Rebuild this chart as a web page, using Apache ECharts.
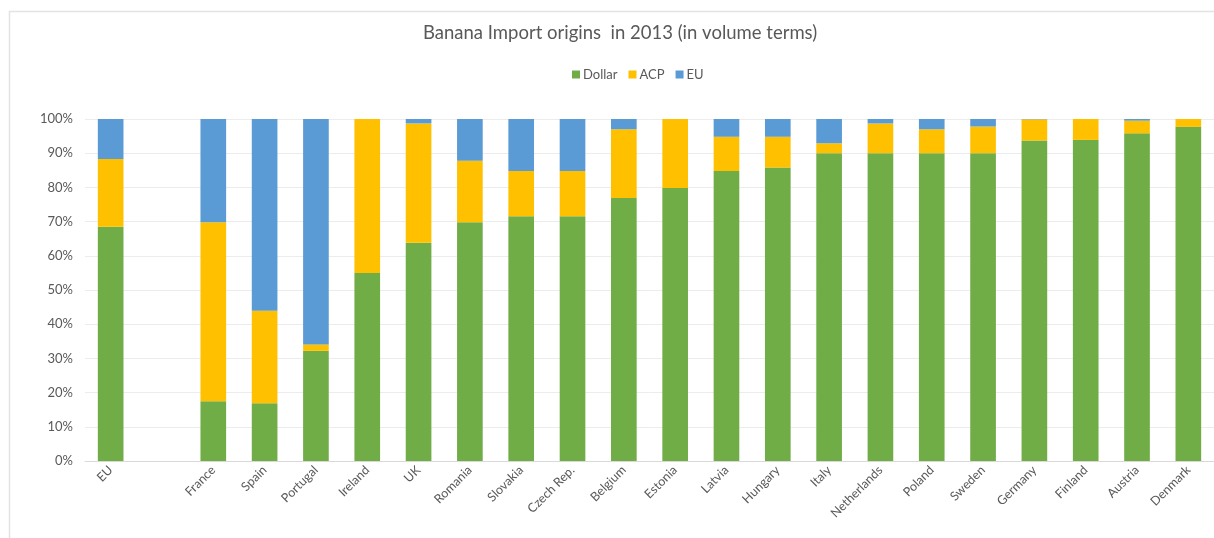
<!DOCTYPE html>
<html>
<head>
<meta charset="utf-8">
<script src="https://cdn.jsdelivr.net/npm/echarts@6/dist/echarts.min.js"></script>
<style>
html,body{margin:0;padding:0;background:#fff;}
#chart{width:1214px;height:538px;}
</style>
</head>
<body>
<div id="chart"></div>
<script>
const categories = ['EU', '', 'France', 'Spain', 'Portugal', 'Ireland', 'UK', 'Romania', 'Slovakia', 'Czech Rep.', 'Belgium', 'Estonia', 'Latvia', 'Hungary', 'Italy', 'Netherlands', 'Poland', 'Sweden', 'Germany', 'Finland', 'Austria', 'Denmark'];
const dollar = [68.5, null, 17.5, 16.9, 32.2, 55.0, 63.8, 69.8, 71.6, 71.6, 76.9, 79.8, 84.8, 85.8, 90.0, 90.0, 90.0, 90.0, 93.7, 93.9, 95.8, 97.7];
const acp    = [19.8, null, 52.3, 27.0, 1.9, 45.0, 34.9, 18.0, 13.2, 13.2, 20.1, 20.2, 10.0, 9.0, 2.9, 8.7, 7.0, 7.8, 6.2, 6.1, 3.7, 2.3];
const eu     = [11.7, null, 30.2, 56.1, 65.9, 0.0, 1.3, 12.2, 15.2, 15.2, 3.0, 0.0, 5.2, 5.2, 7.1, 1.3, 3.0, 2.2, 0.1, 0.0, 0.5, 0.0];
const seriesNames = ['Dollar', 'ACP', 'EU'];
const yTicks = {min: 0, max: 100, interval: 10};

const chart = echarts.init(document.getElementById('chart'));
const font = 'Lato, "Open Sans", sans-serif';
const mk = (name, data, color) => ({
  name, type: 'bar', stack: 'total', data,
  itemStyle: {color}, barCategoryGap: '50%',
  emphasis: {disabled: true}
});
chart.setOption({
  animation: false,
  backgroundColor: '#fff',
  graphic: [{
    type: 'rect', left: 7, top: 9, silent: true,
    shape: {width: 1230, height: 560},
    style: {fill: 'none', stroke: '#e3e3e3', lineWidth: 1.5}
  }],
  title: {
    text: 'Banana Import origins  in 2013 (in volume terms)',
    left: 418, top: 19,
    textStyle: {fontFamily: font, fontSize: 18.5, fontWeight: 'normal', color: '#595959'}
  },
  legend: {
    data: seriesNames, left: 567, top: 63,
    icon: 'rect', itemWidth: 8, itemHeight: 8, itemGap: 11,
    textStyle: {fontFamily: font, fontSize: 13, color: '#595959', padding: [0, 0, 0, -2]}
  },
  grid: {left: 85, top: 119, width: 1132, bottom: 77},
  xAxis: {
    type: 'category', data: categories,
    axisTick: {show: false},
    axisLine: {lineStyle: {color: '#d9d9d9'}},
    axisLabel: {interval: 0, rotate: 45, margin: 7, fontFamily: font, fontSize: 12.5, color: '#595959'}
  },
  yAxis: {
    type: 'value', min: yTicks.min, max: yTicks.max, interval: yTicks.interval,
    axisLabel: {formatter: '{value}%', fontFamily: font, fontSize: 13, color: '#595959', margin: 12},
    axisLine: {show: false}, axisTick: {show: false},
    splitLine: {lineStyle: {color: '#ececec'}}
  },
  series: [
    mk(seriesNames[0], dollar, '#70AD47'),
    mk(seriesNames[1], acp, '#FFC000'),
    mk(seriesNames[2], eu, '#5B9BD5')
  ]
});
</script>
</body>
</html>
